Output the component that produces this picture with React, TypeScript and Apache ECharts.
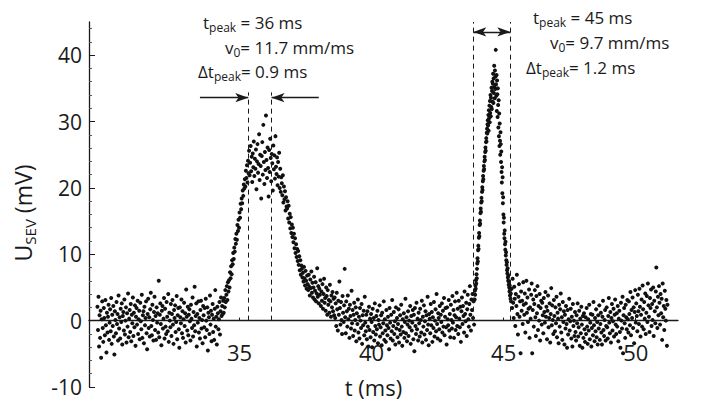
import React, { useEffect, useRef } from "react";
import * as echarts from "echarts";

const FONT = '"Open Sans", "Noto Sans", "DejaVu Sans", sans-serif';
const INK = "#1a1a1a";

// sampling steps (ms)
const noiseStep = 0.02;
const pulseStep = 0.01;

// baseline before first pulse, starts at 29.62 ms
const segA_t0 = 29.62;
const segA = [
  2.1, -1.4, 3.6, -3.9, 0.8, -2.6, 1.5, -5.6, 0.2, 2.9, -1.1, -3.2, 1.9, 0.4, -2.2, 3.1, -0.7, -4.8, 1.2, -1.8,
  0.6, 2.4, -2.9, -0.3, 1.7, -1.6, 3.4, -3.5, 0.9, -0.8, 2.2, -2.4, -5.1, 1.4, 0.1, -1.9, 2.8, -0.5, 1.0, -3.0,
  3.8, -1.2, 0.5, -2.7, 1.8, -0.2, 2.6, -3.6, 0.7, 1.3, -1.5, 3.2, -2.1, 0.0, 2.0, -3.3, 1.1, -0.9, 4.1, -2.5,
  0.3, 1.6, -1.7, 2.5, -3.1, 0.9, -0.4, 3.5, -2.3, 1.2, -1.0, 2.3, -3.8, 0.6, 1.9, -0.6, 3.0, -2.0, 0.2, 1.5,
  -2.8, 2.7, -0.1, -1.3, 3.9, -2.6, 0.8, 1.4, -3.4, 2.1, -0.7, 0.4, 2.9, -1.9, -4.3, 1.0, 3.3, -1.1, 0.5, -2.4,
  1.7, 4.2, -0.8, -2.2, 2.4, 0.1, -3.0, 1.3, 3.6, -1.4, 0.7, -2.9, 2.0, -0.3, 1.1, -1.8, 6.0, -2.5, 0.9, 2.6,
  -0.5, -3.7, 1.5, 2.2, -1.2, 0.3, 3.4, -2.7, 1.8, -0.9, -2.0, 2.8, 0.6, -1.6, 4.0, -3.2, 1.2, 0.0, -1.0, 2.5,
  -2.3, 1.0, 3.1, -0.6, -3.5, 1.6, 0.4, 2.3, -1.7, -0.2, 3.7, -2.8, 0.8, 1.9, -1.3, -4.1, 2.0, 0.5, -0.4, 3.2,
  -1.9, 1.4, -2.6, 0.2, 2.7, -0.8, 1.1, -3.3, 4.7, 0.6, -1.5, 2.1, -2.2, 0.9, 1.7, -0.1, -3.0, 2.4, 0.3, -1.1,
  3.5, -2.4, 1.3, -0.7, 5.1, -1.6, 0.7, 2.6, -3.9, 1.0, -0.3, 2.9, -1.8, 0.4, -2.7, 1.6, 3.0, -1.2, 0.1, -3.4,
  2.2, 0.8, -1.0, 1.9, -2.5, 3.3, 0.0, -1.4, 2.0, -4.5, 1.2, 0.5, -2.0, 3.8, -0.6, 1.5, -3.1, 0.9, 2.5, -1.7,
  0.3, -2.9, 1.8, 4.6, -0.9, 0.6, -3.6, 2.1, 1.1, -1.3, 0.2, 2.8, -2.1, 1.4, 3.5, 0.7, 2.2, 1.0, 3.0,
];

// first (broad) pulse, starts at 34.40 ms
const segB_t0 = 34.4;
const segB = [
  1.2, 3.4, 2.0, 4.6, 2.8, 3.9, 5.2, 3.1, 5.8, 4.4,
  6.1, 5.0, 7.3, 6.4, 8.2, 7.0, 9.1, 8.5, 10.2, 9.3,
  11.0, 10.4, 12.3, 11.6, 13.1, 12.2, 14.4, 13.5, 15.2, 14.0,
  16.3, 15.5, 17.6, 16.8, 18.4, 17.7, 19.6, 18.8, 20.5, 19.9,
  21.3, 20.2, 22.6, 21.5, 23.4, 20.8, 24.1, 22.2, 25.6, 21.9,
  23.8, 26.3, 22.5, 24.7, 20.9, 25.2, 23.1, 27.0, 21.8, 24.4,
  22.9, 25.8, 19.8, 24.0, 26.6, 22.3, 23.6, 28.1, 21.2, 25.0,
  23.3, 18.4, 24.8, 26.9, 22.0, 29.5, 23.9, 20.6, 25.4, 22.7,
  30.9, 24.2, 21.5, 26.1, 23.0, 18.7, 25.7, 22.4, 27.4, 24.5,
  21.0, 25.1, 23.7, 19.6, 26.4, 22.8, 24.9, 21.4, 27.8, 23.2,
  22.1, 24.6, 20.4, 23.9, 21.7, 25.3, 20.0, 22.9, 19.4, 21.6,
  20.7, 18.9, 21.9, 17.8, 20.2, 18.3, 19.5, 16.6, 18.6, 17.2,
  16.9, 18.0, 15.4, 17.3, 14.8, 16.1, 13.9, 15.6, 13.2, 14.5,
  12.6, 14.0, 11.8, 13.1, 10.9, 12.4, 10.2, 11.5, 9.6, 10.8,
  9.0, 10.5, 8.4, 9.7, 7.6, 9.1, 6.9, 8.3, 7.8, 6.5,
  7.2, 5.9, 8.1, 6.4, 5.3, 7.5, 6.0, 4.8, 6.8, 5.5,
  4.6, 6.9, 5.1, 3.8, 6.2, 4.9, 7.4, 4.2, 5.7, 3.5,
  5.0, 6.6, 3.2, 4.5, 5.8, 2.9, 4.1, 7.9, 3.6, 5.2,
  2.6, 4.8, 3.9, 6.1, 2.2, 4.4, 3.0, 5.5, 1.8, 4.0,
  6.3, 2.7, 3.4, 1.5, 5.0, 3.7, 0.9, 4.6, 2.4, 3.1,
  1.2, 5.4, 2.9, 0.6, 3.8, 2.0, 4.3, 1.4, 3.3, 0.8,
];

// baseline between pulses, starts at 38.60 ms
const segC_t0 = 38.6;
const segC = [
  3.5, 0.4, 2.6, -0.8, 4.2, 1.7, -1.5, 3.0, 0.9, 5.9, 1.9, -0.6, 2.8, 0.1, -2.0, 3.7, 1.2, -0.2, 2.3, 7.8,
  0.5, -1.9, 2.9, 1.4, -0.9, 3.8, 0.2, 1.8, -2.6, 2.4, 0.7, -1.2, 4.5, -0.4, 1.6, -2.3, 0.9, 2.7, -1.5, 0.1,
  2.0, -3.1, 1.1, -0.5, 3.2, -1.8, 0.6, -2.7, 1.9, 0.0, -1.1, 2.5, -3.5, 0.8, -0.7, 1.5, -2.2, 3.6, -0.3, -1.6,
  0.9, -2.8, 1.4, -0.9, -3.9, 2.1, -1.4, 0.3, -2.5, 1.0, -0.2, -4.0, 1.8, -1.7, 0.4, -3.0, 2.6, -0.8, -2.1, 0.7,
  -1.3, 1.5, -3.4, 0.1, -0.6, 2.3, -2.4, -1.0, 0.8, -3.7, 1.2, -1.9, -0.4, 2.9, -2.9, 0.2, -1.5, -3.2, 1.6, -0.7,
  -2.2, 0.6, -1.1, -4.3, 1.9, -0.3, -2.7, 0.9, -1.6, 3.1, -3.0, -0.8, 1.3, -2.0, -0.1, -3.6, 2.0, -1.2, 0.4, -2.5,
  -0.5, 1.7, -3.3, -1.4, 0.8, -2.1, 2.4, -0.9, -3.8, 0.2, -1.7, 1.1, -2.6, -0.2, 3.3, -1.9, 0.5, -3.1, -0.6, 1.4,
  -2.3, 0.0, -1.0, 2.2, -3.5, 0.7, -1.5, -0.3, 1.6, -2.8, 0.9, -4.6, 1.9, -0.8, -2.0, 2.7, -1.3, 0.3, -3.0, 1.2,
  -0.4, -2.4, 1.8, 0.1, -1.8, 3.0, -3.3, 0.6, -0.9, 2.3, -2.1, -0.1, 1.4, -2.9, 0.8, -1.4, 3.6, -0.6, -3.7, 1.0,
  0.3, -1.9, 2.5, -0.7, 1.3, -3.2, 0.5, -1.1, 2.8, -2.4, 0.0, 1.7, -1.6, 4.0, -0.5, -2.7, 1.1, 0.4, -1.3, 2.2,
  -3.0, 0.9, -0.2, 2.6, -1.8, 1.5, -0.9, 3.4, -2.2, 0.6, 1.9, -1.0, -3.6, 2.0, 0.2, -0.7, 3.1, -1.5, 1.0, -2.5,
  2.4, 0.1, -1.2, 3.7, -0.3, 1.6, -2.6, 0.8, 2.9, -1.4, 0.5, 4.2, -0.8, 1.8, -2.0, 3.0, 0.3, -1.0, 2.1, -3.2,
  1.4, 3.5, -0.5, 2.2, 0.7, -1.8, 4.4, 1.0, -0.1, 2.7, -2.3, 1.7, 3.9, 0.2, -0.9, 2.5, 5.2, 0.9, -1.5, 3.2,
  1.6, 4.0, 0.4, 2.9, -0.6,
];

// second (sharp) pulse, starts at 43.90 ms, finer sampling
const segD_t0 = 43.9;
const segD = [
  3.2, 4.5, 3.9, 5.3, 4.8, 6.1, 5.6, 7.0, 6.4, 7.8,
  8.6, 9.4, 8.9, 10.6, 11.3, 10.8, 12.5, 13.2, 12.7, 14.4,
  15.1, 14.6, 16.2, 16.9, 16.4, 17.8, 18.5, 18.0, 19.4, 20.1,
  19.7, 21.0, 21.8, 21.3, 22.6, 23.3, 22.8, 24.0, 24.7, 24.2,
  25.4, 26.1, 25.6, 26.9, 27.5, 27.0, 28.3, 28.9, 28.2, 29.6,
  30.2, 29.4, 31.0, 28.6, 31.7, 30.5, 32.4, 29.9, 33.1, 31.3,
  34.0, 30.8, 33.6, 32.2, 35.1, 31.9, 34.6, 36.0, 33.0, 35.7,
  37.2, 32.8, 36.5, 34.3, 38.4, 35.2, 33.5, 37.7, 34.9, 36.8,
  40.8, 35.6, 33.9, 37.0, 31.6, 36.2, 34.1, 30.7, 35.0, 32.5,
  29.1, 33.2, 27.8, 31.2, 26.3, 29.7, 27.1, 25.0, 28.4, 26.6,
  23.9, 25.5, 22.4, 20.8, 23.1, 19.2, 21.6, 17.7, 18.6, 16.0,
  14.8, 15.5, 13.1, 12.4, 13.6, 11.5, 10.7, 11.9, 9.8, 10.3,
  9.1, 8.4, 8.8, 7.6, 7.1, 7.9, 6.5, 6.0, 6.8, 5.4,
  5.9, 5.0, 4.4, 5.3, 3.8, 4.7, 3.3, 4.1, 2.9,
];

// tail after second pulse, starts at 45.30 ms
const segE_t0 = 45.3;
const segE = [
  4.8, 1.9, 6.3, 2.7, 0.4, 5.1, 3.3, -0.8, 4.0, 2.2, 6.9, 1.0, -2.1, 3.6, 5.5, 0.6, 2.9, -4.9, 4.4, 1.5,
  3.0, -0.5, 5.8, 2.4, 0.9, 4.1, -1.8, 2.6, 6.0, 1.2, 3.5, -0.2, 1.8, 4.7, -2.6, 2.0, 0.3, 3.9, 5.6, -4.9,
  1.6, 3.2, -0.9, 2.5, 4.6, 0.5, -2.3, 3.7, 1.1, 5.2, -1.4, 2.2, 0.0, 4.0, -3.0, 1.9, 3.0, -0.6, 2.7, 0.8,
  -1.9, 3.4, 1.3, -0.3, 4.3, 0.6, 2.1, -2.8, 1.5, 3.8, -1.0, 0.4, 2.6, -3.3, 1.0, 4.9, -0.7, 2.3, 0.1, -2.0,
  3.1, 0.7, -1.6, 2.0, -0.4, 3.6, -2.5, 1.2, 0.3, -3.4, 2.4, -0.9, 1.7, 4.1, -1.8, 0.5, -2.9, 2.8, -0.2, 1.4,
  -3.6, 0.9, -1.2, 2.2, -0.5, -4.1, 1.6, -2.1, 0.2, 3.3, -1.5, -0.1, 1.8, -2.7, 0.6, -3.9, 2.5, -0.8, 0.0, -2.3,
  1.3, -1.7, -3.0, 0.8, -0.4, 2.6, -2.4, -1.0, 1.5, -3.8, 0.3, -1.9, 2.1, -0.6, -4.1, 0.7, -2.6, 1.1, -1.3, -3.2,
  0.5, -2.0, 1.9, -0.9, -3.5, 0.2, -1.5, 2.4, -2.8, -0.3, 1.0, -3.9, -1.1, 0.9, -2.2, 2.8, -0.7, -3.1, 0.4, -1.6,
  1.7, -2.5, -0.2, -3.6, 0.8, -1.2, 2.3, -2.9, -0.5, 1.2, -1.8, -3.6, 0.6, 3.0, -1.4, -2.3, 0.1, 1.6, -3.0, -0.8,
  2.0, -1.0, -2.7, 0.7, 3.4, -0.3, -1.9, 1.3, -3.3, 0.4, 2.5, -1.5, -0.1, 1.8, -2.4, 0.9, 3.2, -0.6, -2.0, 1.1,
  -0.9, 2.2, -3.1, 0.3, 1.5, -1.7, -4.1, 2.7, 0.0, -1.2, 3.6, -4.9, 0.8, 1.9, -0.4, -2.6, 2.4, 0.5, -1.3, 3.1,
  0.2, -1.8, 2.9, 1.0, -0.7, 4.3, -2.2, 1.6, 0.4, 3.5, -1.1, 2.0, -3.4, 1.3, 4.6, -0.3, 2.6, 0.7, -1.6, 3.9,
  1.4, -0.5, 4.8, 2.1, -2.4, 0.9, 3.2, -0.9, 5.3, 1.7, -1.3, 2.8, 0.3, 4.1, -2.0, 1.2, 3.7, -0.2, 5.6, 2.3,
  0.6, -1.7, 3.4, 1.9, 4.7, -0.8, 2.5, 0.1, 5.0, -2.3, 3.0, 1.4, -0.4, 4.4, 8.0, 2.0, -1.1, 3.6, 0.8, 5.2,
  2.7, -0.6, 4.0, 1.1, 3.3, -2.9, 5.6, 0.5, 2.2, -1.4, 4.5, 1.8, 0.0, 3.1, -3.8, 2.4,
];

// axes
const xRange = [29.3, 51.6];
const yRange = [-10, 45];
const xTicks = [35, 40, 45, 50];
const yTicks = [-10, 0, 10, 20, 30, 40];
const yMinorTicks = [-8, -6, -4, -2, 2, 4, 6, 8, 12, 14, 16, 18, 22, 24, 26, 28, 32, 34, 36, 38, 42, 44];

// peak markers (ms) and annotation values
const peak1Bounds = [35.33, 36.21];
const peak2Bounds = [43.85, 45.25];
const peak1Top = 34.4;
const peak2Top = 45;
const peak1ArrowY = 33.6;
const peak2ArrowY = 43.5;
const peak1ArrowTails = [33.5, 38.0];
const peak1Text = ["36 ms", "11.7 mm/ms", "0.9 ms"];
const peak2Text = ["45 ms", "9.7 mm/ms", "1.2 ms"];

// layout
const GRID = { left: 89, right: 37, top: 22, bottom: 15 };
const PLOT_H = 402 - GRID.top - GRID.bottom;

function toPoints(t0: number, step: number, vals: number[]) {
  return vals.map((v, i) => [+(t0 + i * step).toFixed(3), v]);
}

const points = [
  ...toPoints(segA_t0, noiseStep, segA),
  ...toPoints(segB_t0, noiseStep, segB),
  ...toPoints(segC_t0, noiseStep, segC),
  ...toPoints(segD_t0, pulseStep, segD),
  ...toPoints(segE_t0, noiseStep, segE),
];

const subRich = {
  s: { fontSize: 12, fontFamily: FONT, fill: INK, lineHeight: 11, verticalAlign: "bottom" },
};

function annot(x: number, y: number, text: string) {
  return {
    type: "text",
    x,
    y,
    silent: true,
    style: {
      text,
      rich: subRich,
      fontSize: 17,
      fontFamily: FONT,
      fill: INK,
      lineHeight: 22,
      align: "left",
      verticalAlign: "middle",
    },
  };
}

const arrowSym = { symbol: "arrow", symbolSize: [7, 13] };

export default function App() {
  const ref = useRef<HTMLDivElement>(null);
  useEffect(() => {
    const chart = echarts.init(ref.current!, null, { renderer: "svg" });
    const dashStyle = { color: INK, width: 1, type: [5, 4] };
    const solidStyle = { color: INK, width: 1.3, type: "solid" };
    // x axis drawn through y = 0: shift it up from the grid bottom by the pixel height of (0 - yMin)
    const zeroOffset = -(PLOT_H * (0 - yRange[0])) / (yRange[1] - yRange[0]);
    const option: any = {
      animation: false,
      backgroundColor: "#ffffff",
      grid: { ...GRID, containLabel: false, outerBoundsMode: "none" },
      xAxis: {
        type: "value",
        min: xRange[0],
        max: xRange[1],
        offset: zeroOffset,
        axisLine: { show: true, onZero: false, lineStyle: { color: INK, width: 1.3 } },
        axisTick: { show: true, inside: true, length: 3, customValues: xTicks, lineStyle: { color: INK } },
        axisLabel: { customValues: xTicks, fontSize: 22, fontFamily: FONT, color: INK, margin: 20 },
        splitLine: { show: false },
        name: "t (ms)",
        nameLocation: "middle",
        nameGap: 55,
        nameTextStyle: { fontSize: 22, lineHeight: 22, fontFamily: FONT, color: INK, padding: [0, 20, 0, 0] },
      },
      yAxis: [
        {
          type: "value",
          position: "left",
          min: yRange[0],
          max: yRange[1],
          axisLine: { show: true, onZero: false, lineStyle: { color: INK, width: 1.3 } },
          axisTick: { show: true, inside: true, length: 6, customValues: yTicks, lineStyle: { color: INK } },
          axisLabel: { customValues: yTicks, fontSize: 21, lineHeight: 20, fontFamily: FONT, color: INK, margin: 7 },
          splitLine: { show: false },
          name: "U{sub|SEV} (mV)",
          nameLocation: "middle",
          nameGap: 52,
          nameRotate: 90,
          nameTextStyle: {
            fontSize: 23,
            fontFamily: FONT,
            color: INK,
            lineHeight: 28,
            padding: [0, 17, 0, 0],
            rich: {
              sub: { fontSize: 15, fontFamily: FONT, color: INK, lineHeight: 15, verticalAlign: "bottom" },
            },
          },
        },
        {
          type: "value",
          position: "left",
          min: yRange[0],
          max: yRange[1],
          axisLine: { show: false, onZero: false },
          axisTick: { show: true, inside: true, length: 3, customValues: yMinorTicks, lineStyle: { color: "#555" } },
          axisLabel: { show: false },
          splitLine: { show: false },
        },
      ],
      series: [
        {
          type: "scatter",
          data: points,
          symbol: "circle",
          symbolSize: 4,
          itemStyle: { color: "#111", opacity: 1 },
          silent: true,
          markLine: {
            silent: true,
            animation: false,
            symbol: ["none", "none"],
            label: { show: false },
            lineStyle: dashStyle,
            emphasis: { disabled: true },
            data: [
              [{ coord: [peak1Bounds[0], 0] }, { coord: [peak1Bounds[0], peak1Top] }],
              [{ coord: [peak1Bounds[1], 0] }, { coord: [peak1Bounds[1], peak1Top] }],
              [{ coord: [peak2Bounds[0], 0] }, { coord: [peak2Bounds[0], peak2Top] }],
              [{ coord: [peak2Bounds[1], 0] }, { coord: [peak2Bounds[1], peak2Top] }],
              [
                { coord: [peak1ArrowTails[0], peak1ArrowY], lineStyle: solidStyle, symbol: "none" },
                { coord: [peak1Bounds[0], peak1ArrowY], ...arrowSym },
              ],
              [
                { coord: [peak1ArrowTails[1], peak1ArrowY], lineStyle: solidStyle, symbol: "none" },
                { coord: [peak1Bounds[1], peak1ArrowY], ...arrowSym },
              ],
              [
                { coord: [peak2Bounds[0], peak2ArrowY], lineStyle: solidStyle, ...arrowSym },
                { coord: [peak2Bounds[1], peak2ArrowY], ...arrowSym },
              ],
            ],
          },
        },
      ],
      graphic: [
        annot(203, 22, `t{s|peak} = ${peak1Text[0]}`),
        annot(225, 47, `v{s|0}= ${peak1Text[1]}`),
        annot(198, 71, `Δt{s|peak}= ${peak1Text[2]}`),
        annot(533, 17, `t{s|peak} = ${peak2Text[0]}`),
        annot(550, 42, `v{s|0}= ${peak2Text[1]}`),
        annot(526, 67, `Δt{s|peak}= ${peak2Text[2]}`),
      ],
    };
    chart.setOption(option);
    return () => chart.dispose();
  }, []);
  return (
    <div
      ref={ref}
      style={{ position: "fixed", left: 0, top: 0, width: 715, height: 402, background: "#fff" }}
    />
  );
}
